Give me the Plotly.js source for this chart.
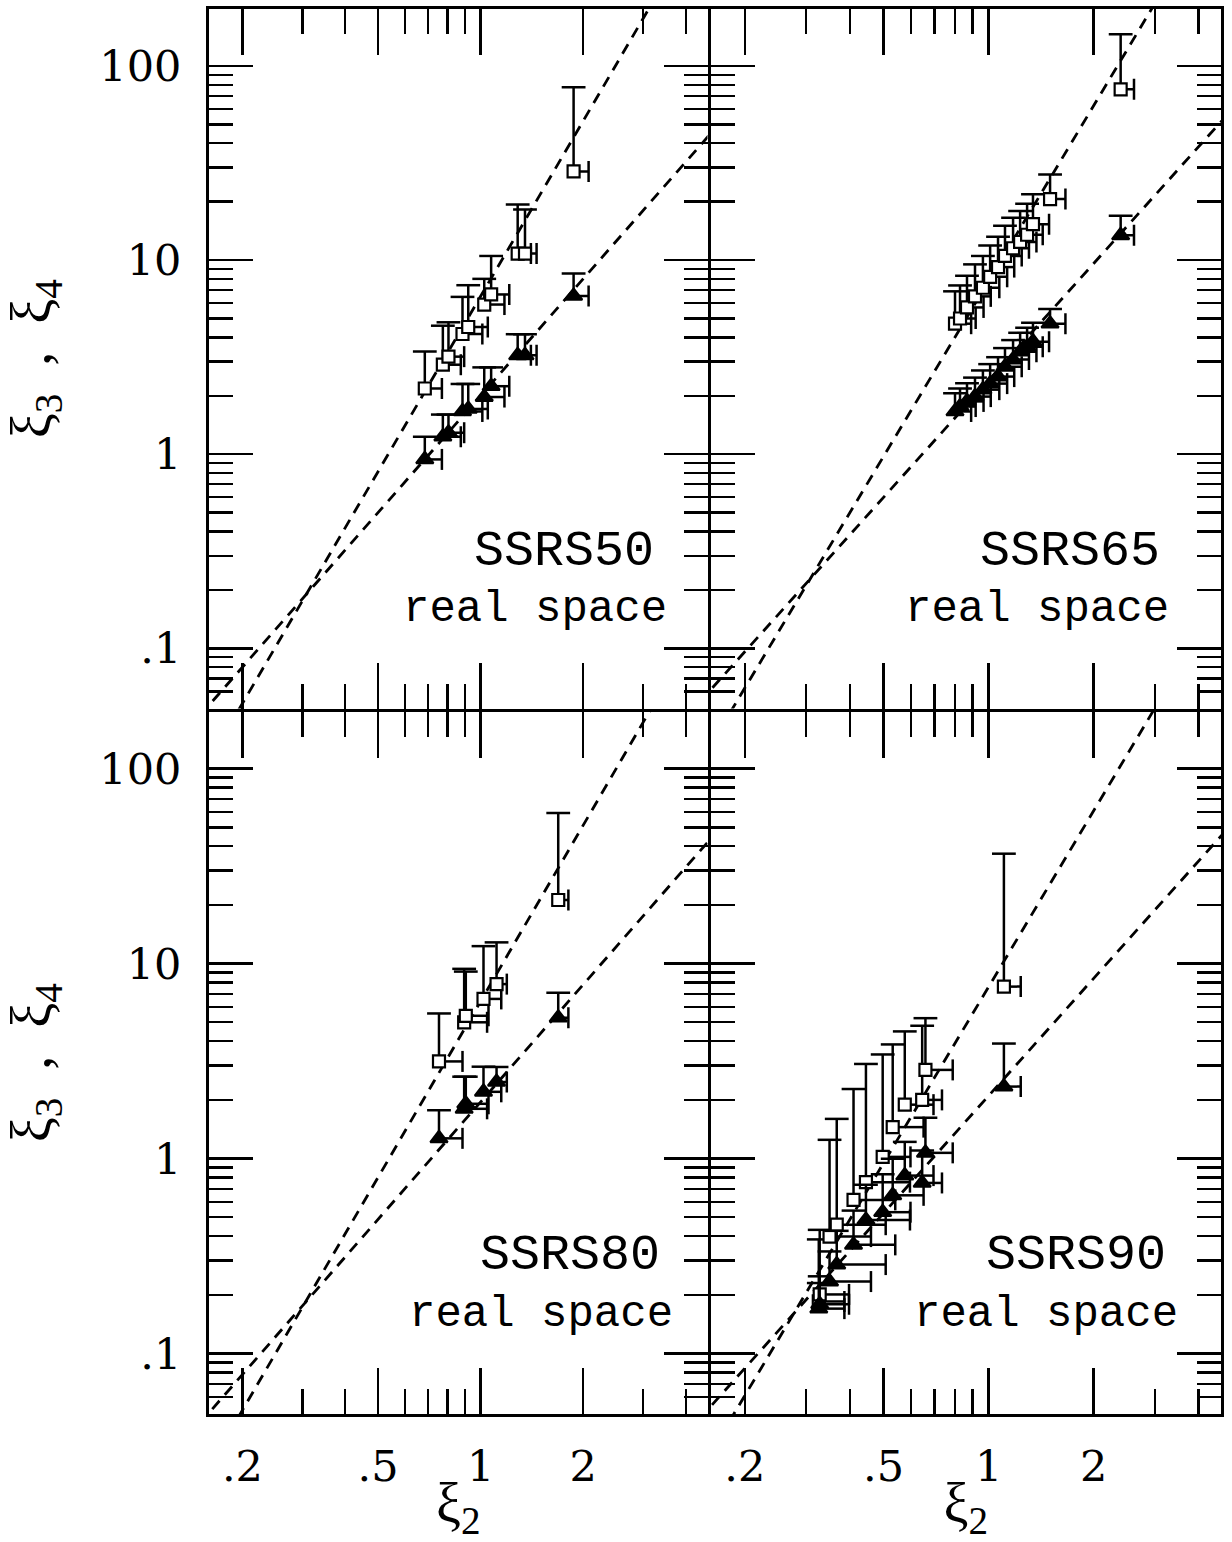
<!DOCTYPE html>
<html><head><meta charset="utf-8">
<script src="https://cdn.plot.ly/plotly-3.0.1.min.js"></script>
<style>body{margin:0;background:#fff}#chart{width:1232px;height:1542px}</style>
</head><body><div id="chart"></div>
<script>
// ---------------- data ----------------
// SSRS50 (top-left)
const ssrs50_xi2    = [0.686, 0.775, 0.805, 0.885, 0.920, 1.025, 1.074, 1.285, 1.350, 1.875];
const ssrs50_xi2Err = [0.084, 0.100, 0.090, 0.127, 0.130, 0.150, 0.140, 0.120, 0.110, 0.200];
const ssrs50_xi3    = [0.94, 1.23, 1.29, 1.66, 1.71, 1.97, 2.24, 3.23, 3.23, 6.53];
const ssrs50_xi3Err = [0.29, 0.37, 0.31, 0.64, 0.59, 0.83, 0.56, 0.92, 0.92, 2.0];
const ssrs50_xi4    = [2.18, 2.89, 3.18, 4.16, 4.52, 5.90, 6.65, 10.8, 10.8, 28.6];
const ssrs50_xi4Err = [1.2, 1.7, 1.6, 2.3, 2.9, 2.1, 3.85, 8.5, 7.4, 49];
const ssrs50_S3 = 2.0, ssrs50_S4 = 6.5;

// SSRS65 (top-right)
const ssrs65_xi2    = [0.801, 0.828, 0.867, 0.914, 0.963, 1.010, 1.064, 1.114, 1.175, 1.231, 1.289, 1.340, 1.500, 2.390];
const ssrs65_xi2Err = [0.09, 0.09, 0.10, 0.10, 0.11, 0.12, 0.12, 0.13, 0.13, 0.14, 0.14, 0.15, 0.16, 0.22];
const ssrs65_xi3    = [1.66, 1.76, 1.87, 1.98, 2.15, 2.31, 2.51, 2.82, 3.07, 3.37, 3.58, 3.80, 4.70, 13.4];
const ssrs65_xi3Err = [0.40, 0.42, 0.45, 0.50, 0.55, 0.60, 0.65, 0.70, 0.80, 0.85, 0.90, 0.95, 0.90, 3.5];
const ssrs65_xi4    = [4.7, 5.0, 5.7, 6.5, 7.2, 8.2, 9.2, 10.5, 11.5, 12.4, 13.5, 15.3, 20.6, 75.7];
const ssrs65_xi4Err = [2.2, 2.4, 2.6, 3.0, 3.3, 3.7, 4.0, 4.5, 5.0, 5.5, 6.0, 6.5, 7.0, 70];
const ssrs65_S3 = 2.4, ssrs65_S4 = 7.8;

// SSRS80 (bottom-left)
const ssrs80_xi2    = [0.755, 0.895, 0.905, 1.020, 1.114, 1.690];
const ssrs80_xi2Err = [0.13, 0.15, 0.15, 0.13, 0.08, 0.12];
const ssrs80_xi3    = [1.27, 1.80, 1.91, 2.20, 2.47, 5.28];
const ssrs80_xi3Err = [0.50, 0.83, 0.72, 0.76, 0.48, 1.8];
const ssrs80_xi4    = [3.15, 5.0, 5.4, 6.59, 7.85, 21.2];
const ssrs80_xi4Err = [2.4, 4.4, 3.7, 5.7, 5.0, 38];
const ssrs80_S3 = 1.95, ssrs80_S4 = 6.4;

// SSRS90 (bottom-right)
const ssrs90_xi2    = [0.326, 0.328, 0.350, 0.367, 0.410, 0.445, 0.497, 0.531, 0.575, 0.645, 0.659, 1.106];
const ssrs90_xi2Err = [0.06, 0.07, 0.11, 0.14, 0.13, 0.15, 0.10, 0.12, 0.12, 0.09, 0.13, 0.13];
const ssrs90_xi3    = [0.170, 0.179, 0.234, 0.286, 0.361, 0.484, 0.531, 0.648, 0.818, 0.750, 1.07, 2.34];
const ssrs90_xi3Err = [0.06, 0.07, 0.10, 0.14, 0.18, 0.25, 0.30, 0.35, 0.40, 0.35, 0.55, 1.55];
const ssrs90_xi4    = [0.185, 0.201, 0.398, 0.458, 0.614, 0.757, 1.02, 1.45, 1.89, 2.00, 2.85, 7.62];
const ssrs90_xi4Err = [0.20, 0.23, 0.85, 1.14, 1.66, 2.3, 2.4, 2.4, 2.6, 2.8, 2.4, 29];
const ssrs90_S3 = 2.1, ssrs90_S4 = 7.6;

// fit lines span (xi2) and tick values / labels
const fitXi2 = [0.05, 8];
const xTickVals = [0.2, 0.5, 1, 2];
const xTickText = ['.2', '.5', '1', '2'];
const xMinorVals = [0.3, 0.4, 0.6, 0.7, 0.8, 0.9, 3, 4];
const yTickVals = [0.1, 1, 10, 100];
const yTickText = ['.1', '1', '10', '100'];
const yMinorVals = [0.06, 0.07, 0.08, 0.09, 0.2, 0.3, 0.4, 0.5, 0.6, 0.7, 0.8, 0.9,
                    2, 3, 4, 5, 6, 7, 8, 9, 20, 30, 40, 50, 60, 70, 80, 90];

// ---------------- build ----------------
const panels = [
  {name: 'SSRS50', xa: 'x3', ya: 'y3', xi2: ssrs50_xi2, xe: ssrs50_xi2Err, xi3: ssrs50_xi3, e3: ssrs50_xi3Err, xi4: ssrs50_xi4, e4: ssrs50_xi4Err, S3: ssrs50_S3, S4: ssrs50_S4},
  {name: 'SSRS65', xa: 'x4', ya: 'y4', xi2: ssrs65_xi2, xe: ssrs65_xi2Err, xi3: ssrs65_xi3, e3: ssrs65_xi3Err, xi4: ssrs65_xi4, e4: ssrs65_xi4Err, S3: ssrs65_S3, S4: ssrs65_S4},
  {name: 'SSRS80', xa: 'x',  ya: 'y',  xi2: ssrs80_xi2, xe: ssrs80_xi2Err, xi3: ssrs80_xi3, e3: ssrs80_xi3Err, xi4: ssrs80_xi4, e4: ssrs80_xi4Err, S3: ssrs80_S3, S4: ssrs80_S4},
  {name: 'SSRS90', xa: 'x2', ya: 'y2', xi2: ssrs90_xi2, xe: ssrs90_xi2Err, xi3: ssrs90_xi3, e3: ssrs90_xi3Err, xi4: ssrs90_xi4, e4: ssrs90_xi4Err, S3: ssrs90_S3, S4: ssrs90_S4}
];

const traces = [];
const dashStyle = {color: '#000', width: 2.8, dash: '11px,8px'};
const zeros = n => new Array(n).fill(0);

panels.forEach(p => {
  const n = p.xi2.length;
  // hierarchical model lines: xi3 = S3 xi2^2, xi4 = S4 xi2^3
  traces.push({x: fitXi2, y: fitXi2.map(v => p.S3 * v * v), xaxis: p.xa, yaxis: p.ya,
    mode: 'lines', line: dashStyle, hoverinfo: 'skip', showlegend: false});
  traces.push({x: fitXi2, y: fitXi2.map(v => p.S4 * v * v * v), xaxis: p.xa, yaxis: p.ya,
    mode: 'lines', line: dashStyle, hoverinfo: 'skip', showlegend: false});

  [[p.xi4, p.e4, 'square', 'white', 12], [p.xi3, p.e3, 'triangle-up', 'black', 15]].forEach(([yv, ye, sym, fill, sz]) => {
    // vertical upper error caps
    traces.push({x: p.xi2, y: yv.map((v, i) => v + ye[i]), xaxis: p.xa, yaxis: p.ya, mode: 'markers',
      marker: {symbol: 'line-ew', size: 17, line: {color: '#000', width: 2.5}}, hoverinfo: 'skip', showlegend: false});
    // horizontal right error caps
    traces.push({x: p.xi2.map((v, i) => v + p.xe[i]), y: yv, xaxis: p.xa, yaxis: p.ya, mode: 'markers',
      marker: {symbol: 'line-ns', size: 15, line: {color: '#000', width: 2.5}}, hoverinfo: 'skip', showlegend: false});
    // points with one-sided error bars
    traces.push({x: p.xi2, y: yv, xaxis: p.xa, yaxis: p.ya, mode: 'markers',
      marker: {symbol: sym, size: sz, color: fill, line: {color: '#000', width: 2.2}},
      error_y: {type: 'data', symmetric: false, array: ye, arrayminus: zeros(n), width: 0, thickness: 2.5, color: '#000'},
      error_x: {type: 'data', symmetric: false, array: p.xe, arrayminus: zeros(n), width: 0, thickness: 2.5, color: '#000'},
      showlegend: false});
  });
});

const tickFont = {family: 'DejaVu Serif, serif', size: 43, color: '#000'};
function xAxis(domain, anchor, labels) {
  return {type: 'log', range: [-0.797, 0.666], domain: domain, anchor: anchor,
    tickmode: 'array', tickvals: xTickVals, ticktext: xTickText, showticklabels: labels,
    ticks: 'inside', ticklen: 46, tickwidth: 2.4, tickcolor: '#000',
    minor: {tickmode: 'array', tickvals: xMinorVals, ticks: 'inside', ticklen: 25, tickwidth: 2.4, tickcolor: '#000', showgrid: false},
    showline: true, linewidth: 3, linecolor: '#000', mirror: 'ticks',
    showgrid: false, zeroline: false, tickfont: tickFont, ticklabelstandoff: 12};
}
function yAxis(domain, anchor, labels) {
  return {type: 'log', range: [-1.31, 2.293], domain: domain, anchor: anchor,
    tickmode: 'array', tickvals: yTickVals, ticktext: yTickText, showticklabels: labels,
    ticks: 'inside', ticklen: 44, tickwidth: 2.4, tickcolor: '#000',
    minor: {tickmode: 'array', tickvals: yMinorVals, ticks: 'inside', ticklen: 24, tickwidth: 2.4, tickcolor: '#000', showgrid: false},
    showline: true, linewidth: 3, linecolor: '#000', mirror: 'ticks',
    showgrid: false, zeroline: false, tickfont: tickFont, ticklabelstandoff: 16};
}
// a gap of one line width between neighbouring domains makes the shared frame lines coincide
const xL = [0, 0.4926], xR = [0.4956, 1], yB = [0, 0.5], yT = [0.5021, 1];
const xiTitleFont = {family: 'Liberation Serif, serif', size: 56, color: '#000'};

const layout = {
  width: 1232, height: 1542,
  margin: {l: 209, r: 11, t: 9, b: 128},
  paper_bgcolor: '#fff', plot_bgcolor: 'rgba(0,0,0,0)',
  showlegend: false,
  xaxis:  Object.assign(xAxis(xL, 'y', true),  {title: {text: 'ξ<sub>2</sub>', font: xiTitleFont, standoff: 10}}),
  xaxis2: Object.assign(xAxis(xR, 'y2', true), {title: {text: 'ξ<sub>2</sub>', font: xiTitleFont, standoff: 10}}),
  xaxis3: xAxis(xL, 'y3', false),
  xaxis4: xAxis(xR, 'y4', false),
  yaxis:  Object.assign(yAxis(yB, 'x', true),  {title: {text: 'ξ<sub>3</sub>  ,  ξ<sub>4</sub>', font: xiTitleFont, standoff: 34}}),
  yaxis2: yAxis(yB, 'x2', false),
  yaxis3: Object.assign(yAxis(yT, 'x3', true), {title: {text: 'ξ<sub>3</sub>  ,  ξ<sub>4</sub>', font: xiTitleFont, standoff: 34}}),
  yaxis4: yAxis(yT, 'x4', false),
  annotations: []
};

const nameFont = {family: 'Liberation Mono, Courier New, monospace', size: 50, color: '#000'};
const spaceFont = {family: 'Liberation Mono, Courier New, monospace', size: 44, color: '#000'};
const labelPos = {
  SSRS50: {xa: 'x3', ya: 'y3', x1: 0.896, x2: 0.922},
  SSRS65: {xa: 'x4', ya: 'y4', x1: 0.884, x2: 0.903},
  SSRS80: {xa: 'x',  ya: 'y',  x1: 0.908, x2: 0.934},
  SSRS90: {xa: 'x2', ya: 'y2', x1: 0.897, x2: 0.919}
};
panels.forEach(p => {
  const L = labelPos[p.name];
  layout.annotations.push({text: p.name, xref: L.xa + ' domain', yref: L.ya + ' domain', x: L.x1, y: 0.225,
    xanchor: 'right', yanchor: 'middle', showarrow: false, font: nameFont});
  layout.annotations.push({text: 'real space', xref: L.xa + ' domain', yref: L.ya + ' domain', x: L.x2, y: 0.142,
    xanchor: 'right', yanchor: 'middle', showarrow: false, font: spaceFont});
});

Plotly.newPlot('chart', traces, layout, {displayModeBar: false, staticPlot: true});
</script>
</body></html>
